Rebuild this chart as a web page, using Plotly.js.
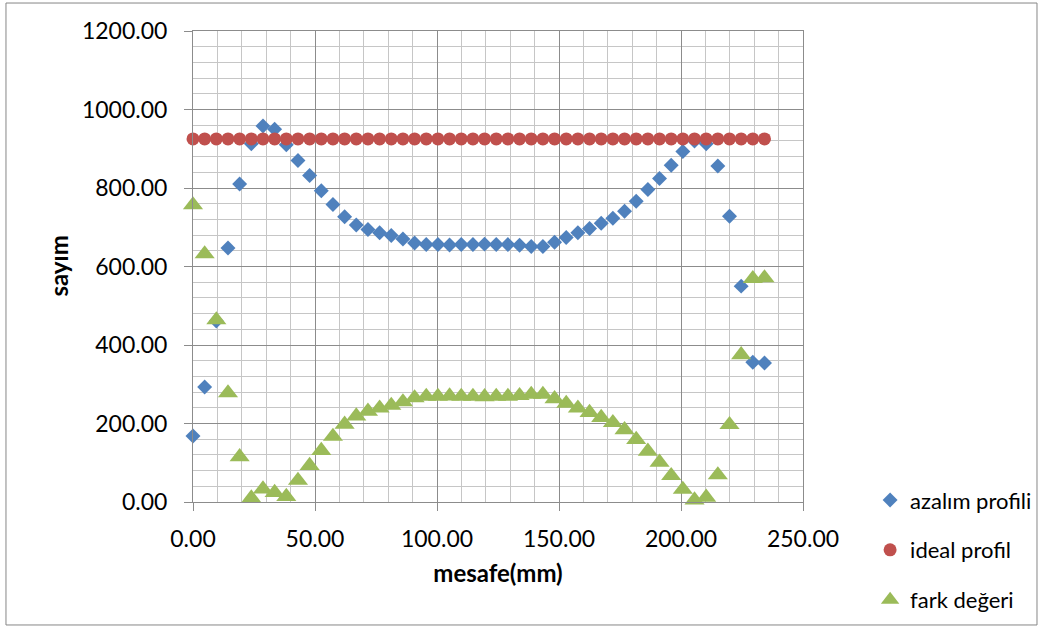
<!DOCTYPE html>
<html>
<head>
<meta charset="utf-8">
<script src="https://cdn.plot.ly/plotly-3.0.1.min.js"></script>
<style>
html,body{margin:0;padding:0;background:#fff;}
#chart{width:1042px;height:628px;}
</style>
</head>
<body>
<div id="chart"></div>
<script>
// mesafe (mm)
var mesafe = [0.00, 4.78, 9.56, 14.34, 19.12, 23.90, 28.68, 33.46, 38.24, 43.02,
  47.80, 52.58, 57.36, 62.14, 66.92, 71.70, 76.48, 81.26, 86.04, 90.82,
  95.60, 100.38, 105.16, 109.94, 114.72, 119.50, 124.28, 129.06, 133.84, 138.62,
  143.40, 148.18, 152.96, 157.74, 162.52, 167.30, 172.08, 176.86, 181.64, 186.42,
  191.20, 195.98, 200.76, 205.54, 210.32, 215.10, 219.88, 224.66, 229.44, 234.22];

var azalimProfili = [168, 293, 461, 647, 810, 913, 958, 950, 910, 870,
  832, 793, 758, 727, 706, 694, 686, 679, 670, 660,
  656, 656, 655, 656, 656, 657, 656, 656, 654, 651,
  651, 662, 674, 686, 697, 710, 723, 741, 766, 796,
  824, 858, 893, 920, 913, 856, 728, 550, 356, 354];

var idealProfil = [925, 925, 925, 925, 925, 925, 925, 925, 925, 925,
  925, 925, 925, 925, 925, 925, 925, 925, 925, 925,
  925, 925, 925, 925, 925, 925, 925, 925, 925, 925,
  925, 925, 925, 925, 925, 925, 925, 925, 925, 925,
  925, 925, 925, 925, 925, 925, 925, 925, 925, 925];

var farkDegeri = [757, 632, 464, 278, 115, 10, 33, 24, 14, 55,
  93, 131, 167, 198, 219, 231, 239, 246, 255, 265,
  269, 269, 270, 269, 269, 268, 269, 269, 271, 274,
  274, 263, 251, 239, 228, 215, 202, 184, 159, 129,
  101, 67, 32, 5, 12, 69, 197, 375, 569, 571];

var seriesNames = ['azalım profili', 'ideal profil', 'fark değeri'];
var xTitle = 'mesafe(mm)';
var yTitle = 'sayım';

var FONT = 'Lato, "Liberation Sans", Arial, sans-serif';
var gridMajor = '#8c8c8c';
var gridMinor = '#c6c6c6';

var traces = [
  {x: mesafe, y: azalimProfili, name: seriesNames[0], type: 'scatter', mode: 'markers', cliponaxis: false,
   marker: {symbol: 'diamond', size: 11.5, color: '#4F81BD', line: {width: 0}}, legend: 'legend'},
  {x: mesafe, y: idealProfil, name: seriesNames[1], type: 'scatter', mode: 'markers', cliponaxis: false,
   marker: {symbol: 'circle', size: 13, color: '#C0504D', line: {width: 0}}, legend: 'legend2'},
  {x: mesafe, y: farkDegeri, name: seriesNames[2], type: 'scatter', mode: 'markers', cliponaxis: false,
   marker: {symbol: 'triangle-up', size: 17.5, color: '#9BBB59', line: {width: 0}}, legend: 'legend3'}
];

var legendCommon = {
  xanchor: 'left', yanchor: 'middle', bgcolor: 'rgba(0,0,0,0)', borderwidth: 0,
  font: {family: FONT, size: 22, color: '#000'}, itemwidth: 30
};
function mkLegend(y) {
  var o = JSON.parse(JSON.stringify(legendCommon));
  o.x = 1.11; o.y = y;
  return o;
}

var layout = {
  width: 1042, height: 628,
  paper_bgcolor: '#fff', plot_bgcolor: '#fff',
  margin: {l: 193, r: 239, t: 31, b: 126, autoexpand: false},
  font: {family: FONT, size: 23, color: '#000'},
  showlegend: true,
  legend: mkLegend(0.004),
  legend2: mkLegend(-0.102),
  legend3: mkLegend(-0.208),
  xaxis: {
    range: [0, 250], dtick: 50, tick0: 0, tickformat: '.2f',
    showgrid: true, gridcolor: gridMajor, gridwidth: 1,
    minor: {dtick: 10, showgrid: true, gridcolor: gridMinor, gridwidth: 1},
    showline: true, linecolor: gridMajor, linewidth: 1, mirror: true,
    ticks: 'outside', ticklen: 8, tickcolor: gridMajor,
    ticklabelstandoff: 8,
    zeroline: false,
    tickfont: {family: FONT, size: 23, color: '#000'},
    title: {text: xTitle, font: {family: FONT, size: 24, color: '#000', weight: 'bold'}, standoff: 14}
  },
  yaxis: {
    range: [0, 1200], dtick: 200, tick0: 0, tickformat: '.2f',
    showgrid: true, gridcolor: gridMajor, gridwidth: 1,
    minor: {dtick: 40, showgrid: true, gridcolor: gridMinor, gridwidth: 1},
    showline: true, linecolor: gridMajor, linewidth: 1, mirror: true,
    ticks: 'outside', ticklen: 8, tickcolor: gridMajor,
    ticklabelstandoff: 12,
    zeroline: false,
    tickfont: {family: FONT, size: 23, color: '#000'}
  },
  annotations: [{
    text: yTitle, xref: 'paper', yref: 'paper', x: -0.2213, y: 0.5,
    xanchor: 'center', yanchor: 'middle', textangle: -90, showarrow: false,
    font: {family: FONT, size: 24, color: '#000', weight: 'bold'}
  }],
  shapes: [{
    type: 'rect', xref: 'paper', yref: 'paper',
    x0: -0.3066, x1: 1.3836, y0: -0.2611, y1: 1.0594,
    line: {color: '#868686', width: 1}, fillcolor: 'rgba(0,0,0,0)', layer: 'below'
  }]
};

Plotly.newPlot('chart', traces, layout, {displayModeBar: false, staticPlot: true});
</script>
</body>
</html>
